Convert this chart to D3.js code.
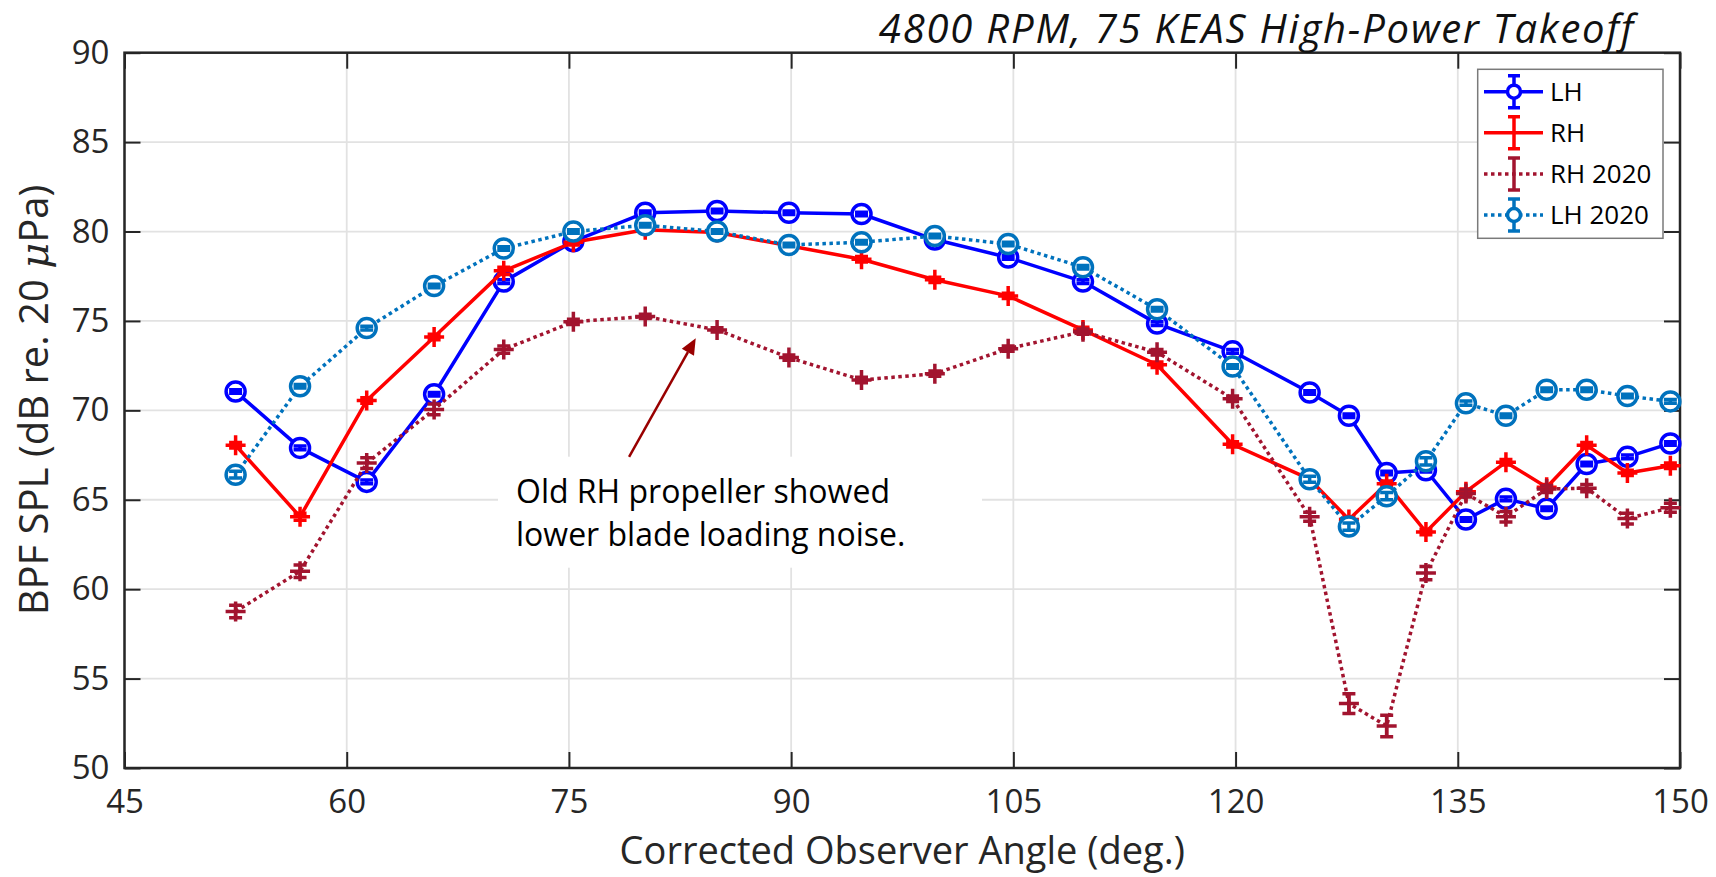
<!DOCTYPE html>
<html>
<head>
<meta charset="utf-8">
<script src="https://cdn.jsdelivr.net/npm/d3@7/dist/d3.min.js"></script>
<style>
  html, body { margin: 0; padding: 0; background: #fff; }
  svg { display: block; }
</style>
</head>
<body>
<svg id="chart" width="1716" height="877"></svg>
<script>
// ---------------- DATA ----------------
const angles = [52.5, 56.85, 61.35, 65.9, 70.6, 75.3, 80.15, 85.0, 89.85, 94.75, 99.7, 104.65, 109.7, 114.7, 119.8, 125.0, 127.65, 130.2, 132.85, 135.55, 138.25, 141.0, 143.7, 146.45, 149.35];

const lhValues     = [71.05, 67.9, 66.0, 70.9, 77.2, 79.45, 81.05, 81.15, 81.05, 80.98, 79.55, 78.55, 77.2, 74.85, 73.3, 71.0, 69.7, 66.5, 66.65, 63.9, 65.05, 64.5, 67.0, 67.4, 68.15];
const lhErr        = [0.1, 0.1, 0.1, 0.1, 0.1, 0.1, 0.1, 0.1, 0.1, 0.1, 0.1, 0.1, 0.1, 0.1, 0.1, 0.1, 0.1, 0.1, 0.1, 0.1, 0.1, 0.1, 0.1, 0.1, 0.1];

const rhValues     = [68.05, 64.05, 70.55, 74.1, 77.8, 79.4, 80.1, 79.95, 79.2, 78.45, 77.3, 76.4, 74.5, 72.55, 68.1, 66.15, 63.9, 65.9, 63.2, 65.45, 67.1, 65.7, 68.05, 66.5, 66.9];
const rhErr        = [0.15, 0.2, 0.15, 0.15, 0.2, 0.15, 0.15, 0.15, 0.15, 0.15, 0.15, 0.15, 0.15, 0.15, 0.15, 0.15, 0.15, 0.15, 0.15, 0.15, 0.15, 0.15, 0.15, 0.15, 0.15];

const rh2020Values = [58.75, 61.0, 67.05, 70.05, 73.4, 74.95, 75.25, 74.5, 72.95, 71.7, 72.05, 73.45, 74.4, 73.25, 70.65, 64.05, 53.6, 52.35, 60.9, 65.35, 64.05, 65.6, 65.65, 63.95, 64.55];
const rh2020Err    = [0.35, 0.35, 0.3, 0.3, 0.2, 0.15, 0.12, 0.12, 0.15, 0.15, 0.15, 0.15, 0.15, 0.15, 0.15, 0.25, 0.55, 0.6, 0.37, 0.2, 0.3, 0.2, 0.2, 0.3, 0.25];

const lh2020Values = [66.4, 71.35, 74.6, 76.95, 79.05, 80.0, 80.35, 80.0, 79.25, 79.4, 79.75, 79.3, 78.0, 75.65, 72.45, 66.15, 63.5, 65.2, 67.15, 70.4, 69.7, 71.15, 71.15, 70.8, 70.5];
const lh2020Err    = [0.19, 0.1, 0.1, 0.1, 0.1, 0.1, 0.1, 0.1, 0.1, 0.1, 0.1, 0.1, 0.1, 0.1, 0.1, 0.17, 0.2, 0.2, 0.2, 0.12, 0.1, 0.1, 0.1, 0.1, 0.1];

const seriesNames = ["LH", "RH", "RH 2020", "LH 2020"];
const xTicks = [45, 60, 75, 90, 105, 120, 135, 150];
const yTicks = [50, 55, 60, 65, 70, 75, 80, 85, 90];

const titleText = "4800 RPM, 75 KEAS High-Power Takeoff";
const xLabelText = "Corrected Observer Angle (deg.)";
const annotationLines = ["Old RH propeller showed", "lower blade loading noise."];
const annotationPoint = [83.56, 74.03];  // arrow tip (data units)
const annotationTail = [79.06, 67.4];    // arrow tail (data units)

// ---------------- STYLE / LAYOUT ----------------
const FONT = "'Open Sans', 'Noto Sans', sans-serif";
const plot = { left: 124.5, right: 1680, top: 52.7, bottom: 768 };
const axisColor = "#262626";

const styles = [
  { color: "#0000FF", dash: null, marker: "circle" },
  { color: "#FF0000", dash: null, marker: "plus" },
  { color: "#A2142F", dash: "3.5 3.5", marker: "plus" },
  { color: "#0072BD", dash: "3.5 3.5", marker: "circle" }
];
const series = [
  { name: seriesNames[0], values: lhValues, errs: lhErr, ...styles[0] },
  { name: seriesNames[1], values: rhValues, errs: rhErr, ...styles[1] },
  { name: seriesNames[2], values: rh2020Values, errs: rh2020Err, ...styles[2] },
  { name: seriesNames[3], values: lh2020Values, errs: lh2020Err, ...styles[3] }
];

const svg = d3.select("#chart");
const x = d3.scaleLinear().domain([45, 150]).range([plot.left, plot.right]);
const y = d3.scaleLinear().domain([50, 90]).range([plot.bottom, plot.top]);

// Grid
const grid = svg.append("g");
grid.selectAll("line.gx").data(xTicks).join("line")
  .attr("x1", d => x(d)).attr("x2", d => x(d))
  .attr("y1", plot.top).attr("y2", plot.bottom)
  .attr("stroke", "#e2e2e2").attr("stroke-width", 1.8);
grid.selectAll("line.gy").data(yTicks).join("line")
  .attr("x1", plot.left).attr("x2", plot.right)
  .attr("y1", d => y(d)).attr("y2", d => y(d))
  .attr("stroke", "#e2e2e2").attr("stroke-width", 1.8);

// Annotation background box (white, hides the grid)
const annX = 516, annY1 = 502.7, annLH = 43;
svg.append("rect")
  .attr("x", annX - 18).attr("y", annY1 - 46)
  .attr("width", 484).attr("height", 111)
  .attr("fill", "#fff");

// Axes
const tickLen = 16;
const axB = d3.axisBottom(x).tickValues(xTicks).tickSizeInner(-tickLen).tickSizeOuter(0).tickPadding(22);
const axT = d3.axisTop(x).tickValues(xTicks).tickSizeInner(-tickLen).tickSizeOuter(0).tickFormat("");
const axL = d3.axisLeft(y).tickValues(yTicks).tickSizeInner(-tickLen).tickSizeOuter(0).tickPadding(15);
const axR = d3.axisRight(y).tickValues(yTicks).tickSizeInner(-tickLen).tickSizeOuter(0).tickFormat("");

function styleAxis(g) {
  g.select(".domain").remove();
  g.selectAll(".tick line").attr("stroke", axisColor).attr("stroke-width", 2);
  g.selectAll(".tick text").attr("fill", axisColor)
    .style("font-family", FONT).style("font-size", "33px");
}
svg.append("g").attr("transform", `translate(0,${plot.bottom})`).call(axB).call(styleAxis);
svg.append("g").attr("transform", `translate(0,${plot.top})`).call(axT).call(styleAxis);
svg.append("g").attr("transform", `translate(${plot.left},0)`).call(axL).call(styleAxis);
svg.append("g").attr("transform", `translate(${plot.right},0)`).call(axR).call(styleAxis);

// Frame
svg.append("rect")
  .attr("x", plot.left).attr("y", plot.top)
  .attr("width", plot.right - plot.left).attr("height", plot.bottom - plot.top)
  .attr("fill", "none").attr("stroke", axisColor).attr("stroke-width", 2.5);

// Series
const SW = 3.5, CAP = 6.5, CR = 9.5, PL = 10;
const line = d3.line().x(d => x(d[0])).y(d => y(d[1]));

series.forEach(s => {
  const g = svg.append("g");
  const pts = angles.map((a, i) => [a, s.values[i], s.errs[i]]);
  g.append("path").attr("d", line(pts))
    .attr("fill", "none").attr("stroke", s.color).attr("stroke-width", SW)
    .attr("stroke-dasharray", s.dash)
    .attr("stroke-linejoin", "round");
  const m = g.selectAll("g.pt").data(pts).join("g")
    .attr("transform", d => `translate(${x(d[0])},${y(d[1])})`);
  if (s.marker === "circle") {
    m.append("circle").attr("r", CR).attr("fill", "#fff")
      .attr("stroke", s.color).attr("stroke-width", SW);
  } else {
    m.append("path").attr("d", `M${-PL},0H${PL}M0,${-PL}V${PL}`)
      .attr("stroke", s.color).attr("stroke-width", SW).attr("fill", "none");
  }
  // error bars
  m.append("path")
    .attr("d", d => {
      const up = y(d[1] + d[2]) - y(d[1]);
      const dn = y(d[1] - d[2]) - y(d[1]);
      return `M0,${up}V${dn}M${-CAP},${up}H${CAP}M${-CAP},${dn}H${CAP}`;
    })
    .attr("stroke", s.color).attr("stroke-width", SW).attr("fill", "none");
});

// Annotation arrow
const arrowColor = "#990000";
const ax0 = x(annotationTail[0]), ay0 = y(annotationTail[1]);
const ax1 = x(annotationPoint[0]), ay1 = y(annotationPoint[1]);
const ang = Math.atan2(ay1 - ay0, ax1 - ax0);
const headL = 16, headW = 7;
const bx = ax1 - headL * Math.cos(ang), by = ay1 - headL * Math.sin(ang);
svg.append("line").attr("x1", ax0).attr("y1", ay0).attr("x2", bx).attr("y2", by)
  .attr("stroke", arrowColor).attr("stroke-width", 2.5);
svg.append("path")
  .attr("d", `M${ax1},${ay1}L${bx + headW * Math.sin(ang)},${by - headW * Math.cos(ang)}L${bx - headW * Math.sin(ang)},${by + headW * Math.cos(ang)}Z`)
  .attr("fill", arrowColor);

// Annotation text
svg.append("g").selectAll("text").data(annotationLines).join("text")
  .attr("x", annX).attr("y", (d, i) => annY1 + i * annLH)
  .style("font-family", FONT).style("font-size", "32px").attr("fill", "#000")
  .text(d => d);

// Title
svg.append("text").attr("x", 1635).attr("y", 42.5).attr("text-anchor", "end")
  .style("font-family", FONT).style("font-size", "40px").style("font-style", "italic")
  .style("letter-spacing", "1.8px")
  .attr("fill", "#111").text(titleText);

// X label
svg.append("text").attr("x", (plot.left + plot.right) / 2).attr("y", 864)
  .attr("text-anchor", "middle")
  .style("font-family", FONT).style("font-size", "38px").attr("fill", axisColor)
  .text(xLabelText);

// Y label
const yl = svg.append("text").attr("transform", "translate(48,400) rotate(-90)")
  .attr("text-anchor", "middle")
  .style("font-family", FONT).style("font-size", "40px").attr("fill", axisColor);
yl.append("tspan").text("BPF SPL (dB re. 20 ");
yl.append("tspan").style("font-style", "italic").style("font-family", "'DejaVu Serif', serif").text("\u03BC");
yl.append("tspan").text("Pa)");

// Legend
const lg = { x: 1477.7, y: 69.3, w: 185.3, h: 169 };
const legend = svg.append("g");
legend.append("rect").attr("x", lg.x).attr("y", lg.y).attr("width", lg.w).attr("height", lg.h)
  .attr("fill", "#fff").attr("stroke", "#7a7a7a").attr("stroke-width", 1.5);
const rowY = [91.7, 132.7, 174, 215];
series.forEach((s, i) => {
  const g = legend.append("g").attr("transform", `translate(0,${rowY[i]})`);
  g.append("line").attr("x1", 1484).attr("x2", 1543).attr("y1", 0).attr("y2", 0)
    .attr("stroke", s.color).attr("stroke-width", SW).attr("stroke-dasharray", s.dash);
  g.append("path").attr("d", `M1514,-16V16M${1514 - 6},-16H${1514 + 6}M${1514 - 6},16H${1514 + 6}`)
    .attr("stroke", s.color).attr("stroke-width", SW).attr("fill", "none");
  if (s.marker === "circle") {
    g.append("circle").attr("cx", 1514).attr("cy", 0).attr("r", 6.5)
      .attr("fill", "#fff").attr("stroke", s.color).attr("stroke-width", SW);
  }
  g.append("text").attr("x", 1550).attr("y", 0).attr("dy", "0.36em")
    .style("font-family", FONT).style("font-size", "26px").attr("fill", "#000")
    .text(s.name);
});
</script>
</body>
</html>
